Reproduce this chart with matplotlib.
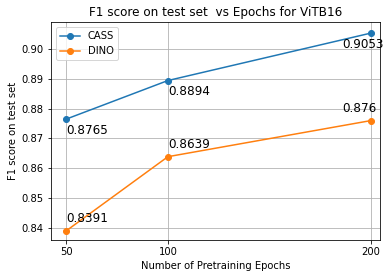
import matplotlib
matplotlib.use("Agg")
import matplotlib.pyplot as plt

epochs = [50, 100, 200]
cass = [0.8765, 0.8894, 0.9053]
dino = [0.8391, 0.8639, 0.876]
cass_labels = ["0.8765", "0.8894", "0.9053"]
dino_labels = ["0.8391", "0.8639", "0.876"]
cass_text_x = [50, 100, 186]
dino_text_x = [50, 100, 186]

fig = plt.figure(figsize=(392/72, 278/72), dpi=72)
ax = fig.add_axes([50.7/392, 1-240.3/278, (380-50.7)/392, (240.3-22.3)/278])

ax.plot(epochs, cass, marker='o', label='CASS')
ax.plot(epochs, dino, marker='o', label='DINO')

for x, y, t in zip(cass_text_x, cass, cass_labels):
    ax.text(x, y - 0.005, t, fontsize=12)
for x, y, t in zip(dino_text_x, dino, dino_labels):
    ax.text(x, y + 0.003, t, fontsize=12)

ax.set_xticks(epochs)
ax.set_xlim(42.3, 204.4)
ax.set_ylim(0.8359, 0.9089)
ax.grid(True)
ax.legend(loc='upper left')
ax.set_title("F1 score on test set  vs Epochs for ViTB16")
ax.set_xlabel("Number of Pretraining Epochs")
ax.set_ylabel("F1 score on test set")

fig.savefig("out.png", dpi=72)
